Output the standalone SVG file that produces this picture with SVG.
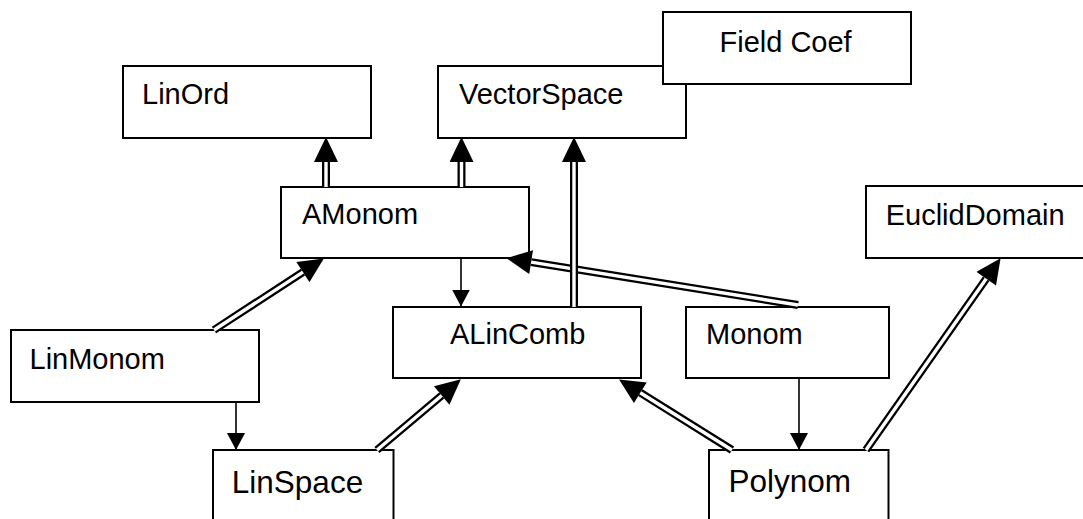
<svg xmlns="http://www.w3.org/2000/svg" width="1083" height="519" viewBox="0 0 1083 519">
  <style>
    .box { fill: #ffffff; stroke: #000000; stroke-width: 2; }
    .label { font-family: "Liberation Sans", Arial, sans-serif; font-size: 29px; fill: #000000; }
    .label.big { font-size: 31.5px; }
    .dbl-outer { fill: none; stroke: #000000; stroke-width: 8; stroke-linecap: butt; }
    .dbl-inner { fill: none; stroke: #ffffff; stroke-width: 3.4; stroke-linecap: butt; }
    .single { fill: none; stroke: #000000; stroke-width: 1.6; }
  </style>
  <defs>
    <!-- large filled head for inheritance (double) links; path ends at the head's base -->
    <marker id="headBig" markerUnits="userSpaceOnUse" markerWidth="26" markerHeight="24" refX="0" refY="11.5" orient="auto" viewBox="0 0 24 23">
      <polygon points="0,0 24,11.5 0,23" fill="#000000"/>
    </marker>
    <!-- small filled head for plain links; path ends at the tip -->
    <marker id="headSmall" markerUnits="userSpaceOnUse" markerWidth="17" markerHeight="18" refX="16" refY="8.5" orient="auto" viewBox="0 0 16 17">
      <polygon points="0,0 16,8.5 0,17" fill="#000000"/>
    </marker>
  </defs>

  <g id="node-linord">
    <rect class="box" x="123" y="66" width="248" height="72"/>
    <text class="label" x="142" y="104">LinOrd</text>
  </g>
  <g id="node-vectorspace">
    <rect class="box" x="438" y="66" width="248" height="72"/>
    <text class="label" x="459" y="104">VectorSpace</text>
  </g>
  <g id="node-fieldcoef">
    <rect class="box" x="663" y="12" width="248" height="72"/>
    <text class="label" x="719.5" y="52">Field Coef</text>
  </g>
  <g id="node-amonom">
    <rect class="box" x="281" y="187" width="248" height="71"/>
    <text class="label" x="302" y="224">AMonom</text>
  </g>
  <g id="node-eucliddomain">
    <rect class="box" x="866" y="186" width="240" height="72"/>
    <text class="label" x="885.7" y="225">EuclidDomain</text>
  </g>
  <g id="node-linmonom">
    <rect class="box" x="11" y="330" width="248" height="72"/>
    <text class="label" x="29.5" y="369">LinMonom</text>
  </g>
  <g id="node-alincomb">
    <rect class="box" x="393" y="307" width="248" height="71"/>
    <text class="label" x="450" y="344">ALinComb</text>
  </g>
  <g id="node-monom">
    <rect class="box" x="686" y="307" width="203" height="71"/>
    <text class="label" x="706" y="344">Monom</text>
  </g>
  <g id="node-linspace">
    <rect class="box" x="213" y="450" width="180.5" height="80"/>
    <text class="label big" x="231.8" y="493">LinSpace</text>
  </g>
  <g id="node-polynom">
    <rect class="box" x="709" y="450" width="179.5" height="80"/>
    <text class="label big" x="728.5" y="492">Polynom</text>
  </g>

  <g id="connectors">
    <!-- plain links -->
    <path class="single" d="M461,258 L461,306.5" marker-end="url(#headSmall)"/>
    <path class="single" d="M236,402 L236,450" marker-end="url(#headSmall)"/>
    <path class="single" d="M799,378 L799,450" marker-end="url(#headSmall)"/>

    <!-- inheritance links: black body, white core, head at the end -->
    <path class="dbl-outer" d="M798,305 L531.1,262.1" marker-end="url(#headBig)"/>
    <path class="dbl-inner" d="M798,305 L531.1,262.1"/>

    <path class="dbl-outer" d="M326,187 L326,162" marker-end="url(#headBig)"/>
    <path class="dbl-inner" d="M326,187 L326,162"/>

    <path class="dbl-outer" d="M461.5,187 L461.5,162" marker-end="url(#headBig)"/>
    <path class="dbl-inner" d="M461.5,187 L461.5,162"/>

    <path class="dbl-outer" d="M574,307 L574,162" marker-end="url(#headBig)"/>
    <path class="dbl-inner" d="M574,307 L574,162"/>

    <path class="dbl-outer" d="M214,330 L302.9,272.1" marker-end="url(#headBig)"/>
    <path class="dbl-inner" d="M214,330 L302.9,272.1"/>

    <path class="dbl-outer" d="M377,450 L441.7,395.5" marker-end="url(#headBig)"/>
    <path class="dbl-inner" d="M377,450 L441.7,395.5"/>

    <path class="dbl-outer" d="M732,450 L640.3,392.7" marker-end="url(#headBig)"/>
    <path class="dbl-inner" d="M732,450 L640.3,392.7"/>

    <path class="dbl-outer" d="M866,450 L986.2,278.7" marker-end="url(#headBig)"/>
    <path class="dbl-inner" d="M866,450 L986.2,278.7"/>
  </g>
</svg>
